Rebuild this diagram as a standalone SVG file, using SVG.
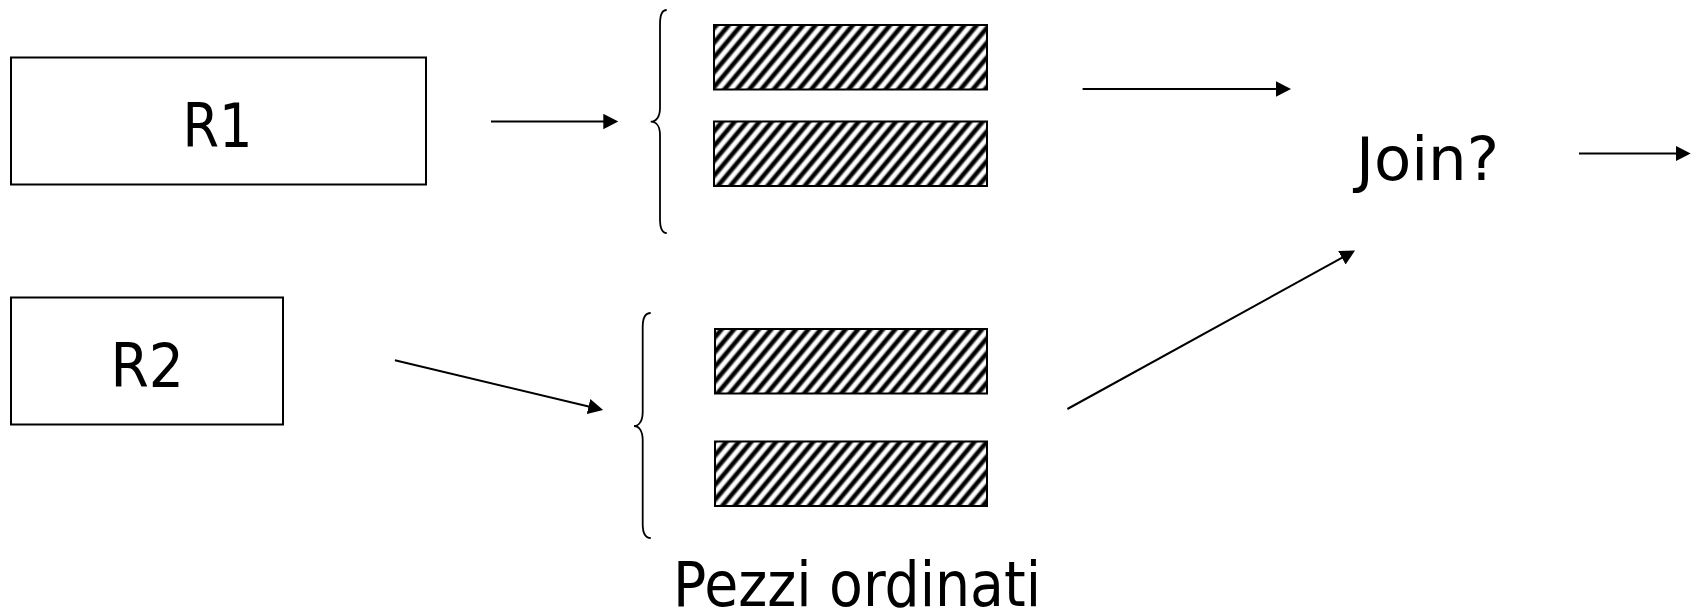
<svg xmlns="http://www.w3.org/2000/svg" width="1701" height="611" viewBox="0 0 1701 611">
  <style>
    .box { fill: #fff; stroke: #000; stroke-width: 2; }
    .hatch { fill: url(#stripes); stroke: #000; stroke-width: 2; }
    .brace { fill: none; stroke: #000; stroke-width: 1.8; }
    .edge { fill: none; stroke: #000; stroke-width: 2; marker-end: url(#head); }
    .lbl { font-family: "DejaVu Sans Condensed", "DejaVu Sans", sans-serif; font-stretch: condensed; fill: #000; }
  </style>
  <defs>
    <linearGradient id="stripeShade" x1="0" y1="0" x2="1" y2="0">
      <stop offset="0" stop-color="#fff"/>
      <stop offset="0.12" stop-color="#fff"/>
      <stop offset="0.34" stop-color="#000"/>
      <stop offset="0.6" stop-color="#000"/>
      <stop offset="0.82" stop-color="#fff"/>
      <stop offset="1" stop-color="#fff"/>
    </linearGradient>
    <pattern id="stripes" width="9.5" height="9.5" patternUnits="userSpaceOnUse" patternTransform="rotate(40)">
      <rect x="0" y="0" width="9.5" height="9.5" fill="url(#stripeShade)"/>
    </pattern>
    <marker id="head" markerUnits="userSpaceOnUse" markerWidth="16" markerHeight="16" refX="12" refY="7.7" orient="auto">
      <path d="M0,0 L15,7.7 L0,15.4 Z" fill="#000"/>
    </marker>
  </defs>

  <rect x="0" y="0" width="1701" height="611" fill="#fff"/>

  <!-- relations -->
  <g id="r1">
    <rect class="box" x="11" y="57.5" width="415" height="127"/>
    <text class="lbl" x="182.5" y="146.5" font-size="60" textLength="70" lengthAdjust="spacingAndGlyphs">R1</text>
  </g>
  <g id="r2">
    <rect class="box" x="11" y="297.5" width="272" height="127"/>
    <text class="lbl" x="110.5" y="386.5" font-size="60" textLength="73.5" lengthAdjust="spacingAndGlyphs">R2</text>
  </g>

  <!-- sorted runs of R1 -->
  <g id="runs-r1">
    <path class="brace" d="M666.7,10 C662,10 660,14 660,24 L660,108 C660,117 656,121.7 650.7,121.7 C656,121.7 660,126 660,135 L660,219 C660,229 662,233 666.7,233"/>
    <rect class="hatch" x="714" y="25" width="273" height="64.5"/>
    <rect class="hatch" x="714" y="121.5" width="273" height="64.5"/>
  </g>

  <!-- sorted runs of R2 -->
  <g id="runs-r2">
    <path class="brace" d="M650.7,313 C646,313 642.7,317 642.7,327 L642.7,412 C642.7,421 639,426 634,426 C639,426 642.7,431 642.7,440 L642.7,524 C642.7,534 646,538 650.7,538"/>
    <rect class="hatch" x="715" y="329" width="272" height="64.5"/>
    <rect class="hatch" x="715" y="441.5" width="272" height="64.5"/>
  </g>

  <g id="join">
    <text class="lbl" x="1356" y="180" font-size="60" textLength="143" lengthAdjust="spacingAndGlyphs">Join?</text>
  </g>

  <g id="caption">
    <text class="lbl" x="673" y="606" font-size="63" textLength="368" lengthAdjust="spacingAndGlyphs">Pezzi ordinati</text>
  </g>

  <!-- connectors -->
  <g id="connectors">
    <line class="edge" x1="491" y1="121.5" x2="615.3" y2="121.5"/>
    <line class="edge" x1="394.9" y1="360.2" x2="600.2" y2="409.3"/>
    <line class="edge" x1="1082.6" y1="89" x2="1288" y2="89"/>
    <line class="edge" x1="1067.4" y1="409" x2="1352.4" y2="252"/>
    <line class="edge" x1="1579" y1="153.5" x2="1687.7" y2="153.5"/>
  </g>
</svg>
